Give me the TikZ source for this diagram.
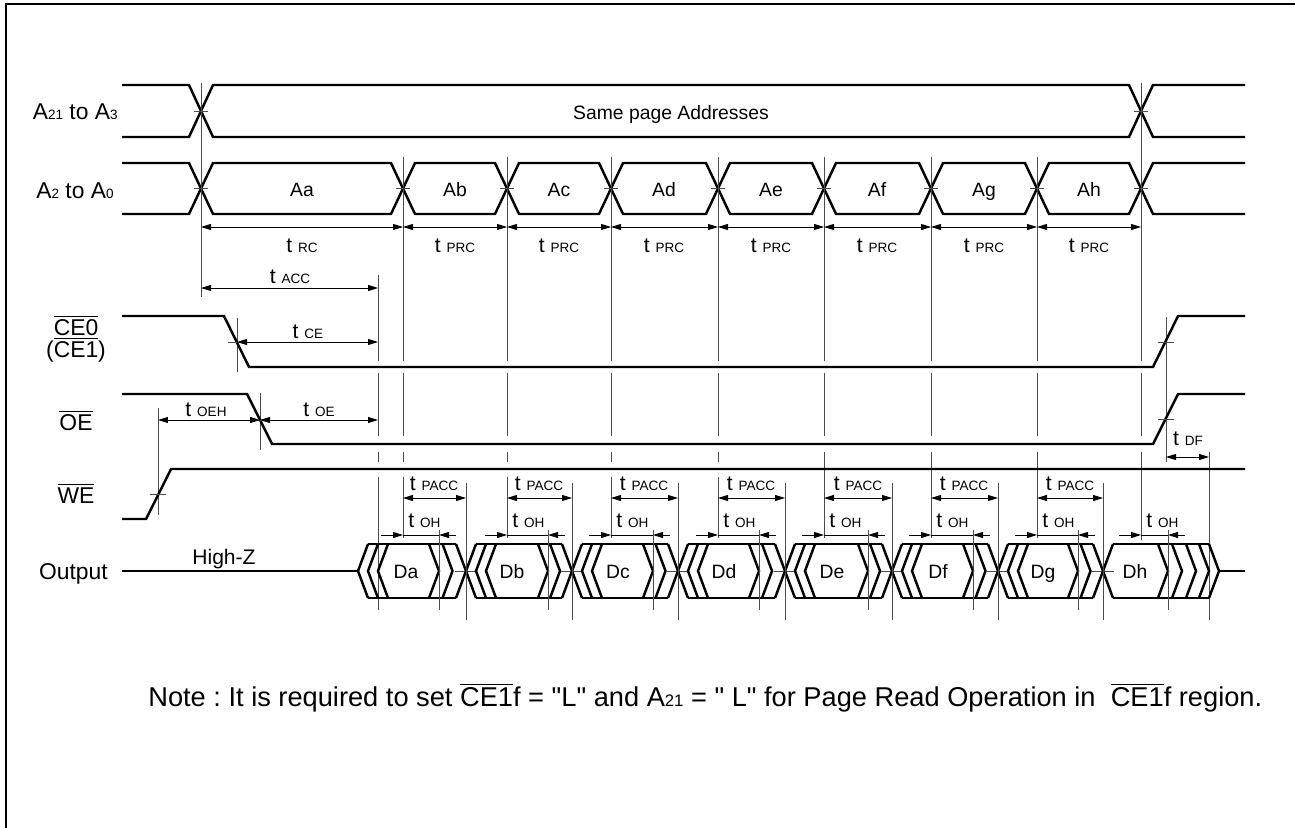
\documentclass[tikz,border=0pt]{standalone}
\usepackage{fontspec}
\setmainfont{Liberation Sans}[Ligatures=TeXOff]
\usetikzlibrary{arrows.meta}

\newcommand{\sm}[1]{{\fontsize{7.7}{8}\selectfont #1}}
\newcommand{\ovl}[1]{$\overline{\mbox{#1}}$}
\frenchspacing

\begin{document}
\begin{tikzpicture}[x=0.02cm,y=-0.02cm,
    font=\fontsize{12}{14}\selectfont,
    every node/.style={inner sep=0pt,anchor=base},
    >={Triangle[length=2mm,width=1.2mm]},
    sig/.style={line width=1.4pt},
    guide/.style={draw=black!70,line width=0.45pt},
    dim/.style={line width=0.5pt,<->},
    tip/.style={line width=0.5pt,->},
    sname/.style={font=\fontsize{13}{15}\selectfont},
    dname/.style={font=\fontsize{11}{13}\selectfont}]
        \useasboundingbox (0,0) rectangle (1295,828);
        \draw[line width=0.8pt] (6,828) -- (6,4) -- (1295,4);

        % signal names
        \node[sname,anchor=base east] (nA21) at (118,120) {A\sm{21} to A\sm{3}};
        \node[sname,anchor=base east] (nA2) at (114,198) {A\sm{2} to A\sm{0}};
        \node[sname] (nCE0) at (76,335) {\ovl{CE0}};
        \node[sname] (nCE1) at (76,357) {(\ovl{CE1})};
        \node[sname] (nOE) at (76,430) {\ovl{OE}};
        \node[sname] (nWE) at (76,503) {\ovl{WE}};
        \node[sname,anchor=base east] (nOut) at (108,579) {Output};

        % A21 to A3
        \draw[sig] (122,85) -- (189,85) -- (213,137) -- (1129,137) -- (1153,85) -- (1245,85);
        \draw[sig] (122,137) -- (189,137) -- (213,85) -- (1129,85) -- (1153,137) -- (1245,137);
        \draw[guide] (194,111) -- (208,111) (1134,111) -- (1148,111);
        \node[dname] (same) at (671,120) {Same page Addresses};

        % A2 to A0
        \draw[sig] (122,163) -- (189,163) -- (201,188.5) -- (189,214) -- (122,214);
        \foreach \a/\b in {201/403,403/507,507/611,611/718,718/824,824/931,931/1037,1037/1141}
            \draw[sig] (\a,188.5) -- (\a+12,163) -- (\b-12,163) -- (\b,188.5) -- (\b-12,214) -- (\a+12,214) -- cycle;
        \draw[sig] (1245,163) -- (1153,163) -- (1141,188.5) -- (1153,214) -- (1245,214);
        \foreach \c in {201,403,507,611,718,824,931,1037,1141}
            \draw[guide] (\c-7,188.5) -- (\c+7,188.5);

        \node[dname] (aa) at (302,196) {Aa};
        \node[dname] (ab) at (455,196) {Ab};
        \node[dname] (ac) at (559,196) {Ac};
        \node[dname] (ad) at (664,196) {Ad};
        \node[dname] (ae) at (771,196) {Ae};
        \node[dname] (af) at (877,196) {Af};
        \node[dname] (ag) at (984,196) {Ag};
        \node[dname] (ah) at (1089,196) {Ah};

        % vertical guides
        \draw[guide] (201,83) -- (201,297);
        \foreach \g in {403,507,611,718}
            \draw[guide] (\g,157) -- (\g,361) (\g,373) -- (\g,436) (\g,452) -- (\g,462) (\g,477) -- (\g,538);
        \foreach \g in {824,931,1037}
            \draw[guide] (\g,157) -- (\g,361) (\g,373) -- (\g,436) (\g,452) -- (\g,538);
        \draw[guide] (1141,83) -- (1141,361) (1141,373) -- (1141,436) (1141,452) -- (1141,540);
        \draw[guide] (378,275) -- (378,361) (378,373) -- (378,436) (378,452) -- (378,462) (378,477) -- (378,610);
        \draw[guide] (237,318) -- (237,372);
        \draw[guide] (260,393) -- (260,450);
        \draw[guide] (158,408) -- (158,515);
        \draw[guide] (1166,317) -- (1166,462);
        \draw[guide] (1209,452) -- (1209,620);

        % cycle times
        \draw[dim] (201,227) -- (403,227);
        \foreach \a/\b in {403/507,507/611,611/718,718/824,824/931,931/1037,1037/1141}
            \draw[dim] (\a,227) -- (\b,227);
        \node (tRC) at (302,252) {t \sm{RC}};
        \node (tPRC1) at (455,252) {t \sm{PRC}};
        \node (tPRC2) at (559,252) {t \sm{PRC}};
        \node (tPRC3) at (664,252) {t \sm{PRC}};
        \node (tPRC4) at (771,252) {t \sm{PRC}};
        \node (tPRC5) at (877,252) {t \sm{PRC}};
        \node (tPRC6) at (984,252) {t \sm{PRC}};
        \node (tPRC7) at (1089,252) {t \sm{PRC}};

        \draw[dim] (201,288) -- (378,288);
        \node (tACC) at (290,283) {t \sm{ACC}};

        % CE0, OE, WE
        \draw[sig] (122,316) -- (224,316) -- (249,367) -- (1153,367) -- (1178,316) -- (1245,316);
        \draw[sig] (122,394) -- (247,394) -- (272,444) -- (1153,444) -- (1178,394) -- (1245,394);
        \draw[sig] (122,519) -- (146,519) -- (171,469) -- (1245,469);
        \draw[guide] (228,342) -- (246,342) (251,420) -- (269,420) (150,494) -- (166,494);
        \draw[guide] (1158,342) -- (1174,342) (1158,419) -- (1174,419);

        \draw[dim] (237,342) -- (378,342);
        \node (tCE) at (308,338) {t \sm{CE}};
        \draw[dim] (158,420) -- (260,420);
        \node (tOEH) at (206,416) {t \sm{OEH}};
        \draw[dim] (260,420) -- (378,420);
        \node (tOE) at (319,416) {t \sm{OE}};
        \draw[dim] (1166,457) -- (1209,457);
        \node (tDF) at (1188,445) {t \sm{DF}};

        % output
        \draw[sig] (122,571) -- (358,571);
        \node (hiz) at (224,564) {High-Z};
        \foreach \c/\h/\e in {358/439/466,466/548/572,572/653/678,678/759/785,785/868/892,892/973/998,998/1078/1103} {
            \pgfmathsetmacro{\m}{(\h+\e)/2}
            \draw[sig] (\c+10,544) -- (\e-10,544) (\c+10,598) -- (\e-10,598);
            \foreach \t in {0,10,20}
                \draw[sig] (\c+\t+10,544) -- (\c+\t,571) -- (\c+\t+10,598);
            \foreach \t in {\h,\m,\e}
                \draw[sig] (\t-10,544) -- (\t,571) -- (\t-10,598);
            \draw[guide] (\e-11,571) -- (\e+11,571);
        }
        \draw[sig] (1113,544) -- (1209,544) (1113,598) -- (1209,598);
        \draw[sig] (1113,544) -- (1103,571) -- (1113,598);
        \foreach \t in {1168,1182,1196,1209,1219}
            \draw[sig] (\t-10,544) -- (\t,571) -- (\t-10,598);
        \draw[sig] (1219,571) -- (1245,571);

        \node[dname] (da) at (406,578) {Da};
        \node[dname] (db) at (512,578) {Db};
        \node[dname] (dc) at (618,578) {Dc};
        \node[dname] (dd) at (724,578) {Dd};
        \node[dname] (de) at (832,578) {De};
        \node[dname] (df) at (938,578) {Df};
        \node[dname] (dg) at (1043,578) {Dg};
        \node[dname] (dh) at (1135,578) {Dh};

        % access and hold times
        \foreach \g/\e in {403/466,507/572,611/678,718/785,824/892,931/998,1037/1103} {
            \draw[dim] (\g,498) -- (\e,498);
            \draw[guide] (\e,483) -- (\e,620);
        }
        \node (tPACC1) at (434,490) {t \sm{PACC}};
        \node (tPACC2) at (539,490) {t \sm{PACC}};
        \node (tPACC3) at (644,490) {t \sm{PACC}};
        \node (tPACC4) at (751,490) {t \sm{PACC}};
        \node (tPACC5) at (858,490) {t \sm{PACC}};
        \node (tPACC6) at (964,490) {t \sm{PACC}};
        \node (tPACC7) at (1070,490) {t \sm{PACC}};

        \foreach \g/\h in {403/439,507/548,611/653,718/759,824/868,931/973,1037/1078,1141/1168} {
            \draw[tip] (\g-22,535) -- (\g,535);
            \draw[tip] (\h+17,535) -- (\h,535);
            \draw[line width=0.5pt] (\g,535) -- (\h,535);
            \draw[guide] (\h,530) -- (\h,610);
            \node[anchor=base west] at (\g+5,527) {t \sm{OH}};
        }

        % note
        \node[font=\fontsize{15.5}{18}\selectfont,anchor=base west] (note) at (148,706)
            {Note : It is required to set \ovl{CE1}f = "L" and A{\fontsize{9.5}{10}\selectfont 21} = " L" for Page Read Operation in~ \ovl{CE1}f region.};
    \end{tikzpicture}
\end{document}
